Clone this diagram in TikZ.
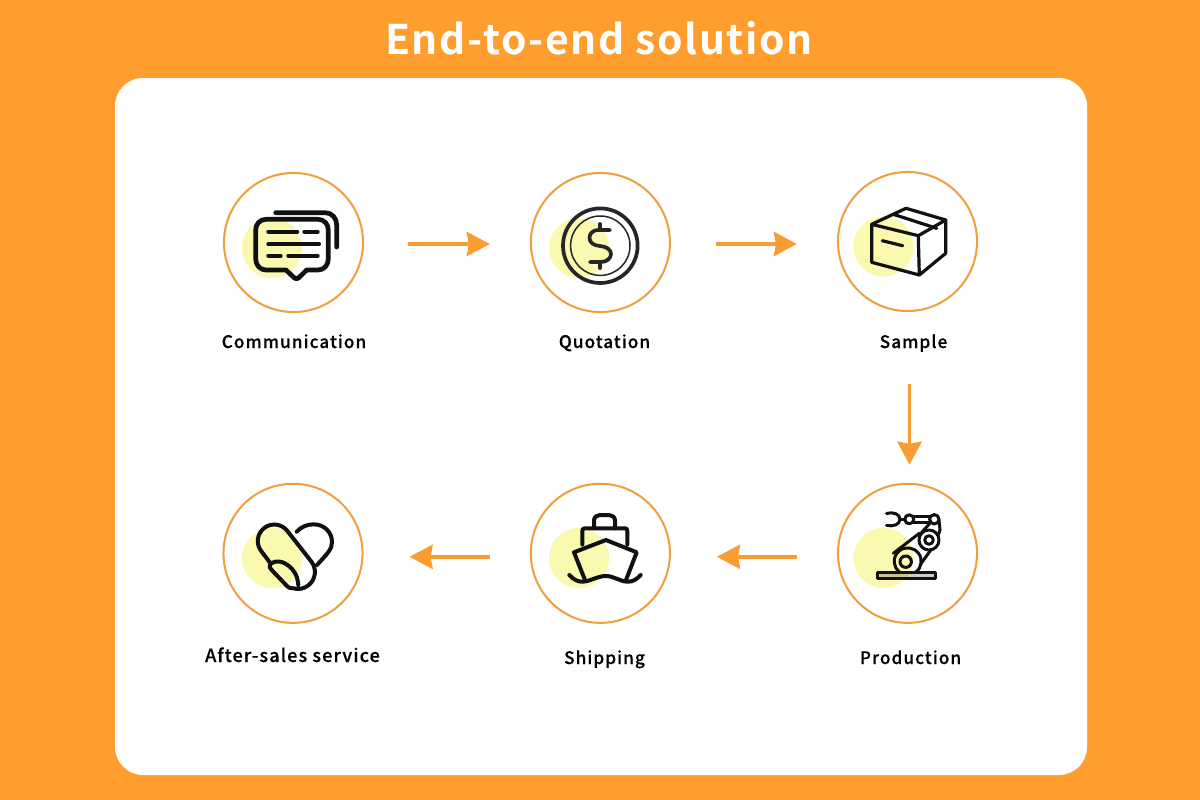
\documentclass[tikz,border=0pt]{standalone}
\usepackage{fontspec}
\setmainfont{Noto Sans CJK SC}
\newfontfamily\titlefont[LetterSpace=4]{Noto Sans CJK SC Bold}
\newfontfamily\labelfont[LetterSpace=6,FakeBold=0.3]{Noto Sans CJK SC Medium}
\usepackage{tikz}
\usetikzlibrary{calc,arrows.meta}
\definecolor{bgorange}{HTML}{FF9E2F}
\definecolor{ringorange}{HTML}{EE9F3E}
\definecolor{flowarrow}{HTML}{F99C31}
\definecolor{blob}{HTML}{FBF8B0}
\definecolor{inkblack}{HTML}{111111}
\tikzset{
  stepring/.style={circle,draw=ringorange,line width=0.02cm,minimum size=1.39cm,inner sep=0pt},
  steplabel/.style={text=black,font=\labelfont\fontsize{4.9}{6}\selectfont,inner sep=0pt,anchor=base},
  flowline/.style={draw=flowarrow,line width=0.035cm,-{Stealth[length=0.23cm,width=0.24cm,inset=0.02cm]}},
  icon/.style={draw=inkblack,line width=0.04cm,line join=round,line cap=round},
  bubbleicon/.style={icon,line width=0.047cm},
  coinicon/.style={icon,draw=black!85,line width=0.037cm},
  boxicon/.style={icon,line width=0.032cm},
  roboticon/.style={icon,line width=0.03cm},
  thinicon/.style={icon,draw=black!85,line width=0.015cm},
  yellowspot/.style={fill=blob,draw=none}
}
\begin{document}
\begin{tikzpicture}[x=0.01cm,y=-0.01cm]

%BACKGROUND AND PANEL
\fill [bgorange] (0,0) rectangle (1200,800);
\fill [white,rounded corners=0.28cm] (115,78) rectangle (1087,775);
\node [text=white,font=\titlefont\fontsize{11.6}{14}\selectfont,inner sep=0pt] (title) at (599,38) {End-to-end solution};

%ROW NO. 0 (from top)

%ELEMENT IN COLUMN NO. 0 (from left)
\fill [yellowspot] (272,248) circle (30);
\node [stepring] (communication) at (293.5,242.5) {};
\node [steplabel] (communicationtext) at (294,348) {Communication};
\draw [bubbleicon] (275.7,212.7) -- (325,212.7) .. controls (332,212.7) and (336.7,218) .. (336.7,225) -- (336.7,247);
\draw [bubbleicon] (266,219.3) -- (318,219.3) .. controls (324,219.3) and (328.3,224) .. (328.3,230) -- (328.3,259) .. controls (328.3,265) and (324,270) .. (318,270) -- (306.7,270) -- (298.5,278) .. controls (297.5,279) and (295.5,279) .. (294.5,278) -- (286,270) -- (266,270) .. controls (260,270) and (255.7,265) .. (255.7,259) -- (255.7,230) .. controls (255.7,224) and (260,219.3) .. (266,219.3) -- cycle;
\draw [icon] (268.3,231.7) -- (297.3,231.7);
\draw [icon] (304.3,231.7) -- (317.7,231.7);
\draw [icon] (268.3,244.3) -- (319,244.3);
\draw [icon] (268.3,255.7) -- (280.7,255.7);
\draw [icon] (288.3,255.7) -- (317.7,255.7);

%ELEMENT IN COLUMN NO. 1 (from left)
\fill [yellowspot] (579,248) circle (30);
\node [stepring] (quotation) at (600.4,242.5) {};
\node [steplabel] (quotationtext) at (604.5,348) {Quotation};
\draw [coinicon] (600.3,245.7) circle (37.3);
\draw [thinicon] (600.3,245.7) circle (29.7);
\draw [coinicon] (610,230) -- (599,230) .. controls (592,230) and (589.5,234) .. (589.5,238) .. controls (589.5,243) and (594,245.5) .. (600,246) .. controls (607,246.5) and (611,250) .. (611,254) .. controls (611,258) and (607,262) .. (601,262) -- (590,262);
\draw [coinicon] (600,224) -- (600,230);
\draw [coinicon] (600,262) -- (600,268);

%ELEMENT IN COLUMN NO. 2 (from left)
\fill [yellowspot] (883.5,246.5) circle (30);
\node [stepring] (sample) at (907.5,241.5) {};
\node [steplabel] (sampletext) at (913.5,348) {Sample};
\draw [boxicon] (871.7,224.3) -- (918.3,235.7) -- (919.3,275) -- (871.7,262.3) -- cycle;
\draw [boxicon] (871.7,224.3) -- (906,208.3) -- (945.7,220) -- (918.3,235.7);
\draw [boxicon] (945.7,220) -- (945.7,253.3) -- (919.3,275);
\draw [boxicon] (893.3,214.3) -- (936.7,228.3);
\draw [boxicon] (882.3,240.7) -- (902.7,245.7);

%ROW NO. 1 (from top)

%ELEMENT IN COLUMN NO. 2 (from left)
\fill [yellowspot] (883.5,558) circle (30);
\node [stepring] (production) at (907.5,553.3) {};
\node [steplabel] (productiontext) at (910.5,664) {Production};
\draw [roboticon,fill=black,fill opacity=0.2] (877.3,572.3) rectangle (935.7,578.3);
\draw [roboticon] (916,572) arc (52:-232:13.5);
\draw [roboticon] (905.7,561.7) circle (5.7);
\draw [roboticon] (929,540) circle (10);
\draw [roboticon] (929,540) circle (4.3);
\draw [roboticon] (934.3,519.3) circle (4.7);
\draw [roboticon] (909.3,519.3) circle (4.5);
\draw [roboticon] (913.5,516) -- (930,516);
\draw [roboticon] (913.5,522.5) -- (930,522.5);
\draw [roboticon] (886.5,513.5) .. controls (893,511.5) and (900,514) .. (900,519.3) .. controls (900,524.5) and (893,527) .. (886.5,525.3);
\draw [roboticon] (900,519.3) -- (904.8,519.3);
\draw [roboticon] (893.3,553.3) -- (919.3,533.3);
\draw [roboticon] (920,565) -- (931,549.7);
\draw [roboticon] (931,522) -- (920,534.3);
\draw [roboticon] (939,520) -- (940,530) -- (938.3,535);

%ELEMENT IN COLUMN NO. 1 (from left)
\fill [yellowspot] (579,558) circle (30);
\node [stepring] (shipping) at (600.4,553.3) {};
\node [steplabel] (shippingtext) at (604.5,664) {Shipping};
\draw [icon] (594,528.3) -- (594,520.5) .. controls (594,517) and (597,515) .. (600,515) -- (609,515) .. controls (612,515) and (615,517) .. (615,520.5) -- (615,528.3);
\draw [icon] (582.3,544.5) -- (582.3,531) .. controls (582.3,529) and (583.5,528.3) .. (585,528.3) -- (625,528.3) .. controls (626.5,528.3) and (627.3,529) .. (627.3,531) -- (627.3,544.5);
\draw [icon] (585,580) -- (574,552.3) -- (606,540) -- (636.7,552.3) -- (626,580);
\draw [icon] (569.3,575) .. controls (574,580) and (578,581.7) .. (582,581.7) .. controls (590,581.7) and (597,576) .. (606,576) .. controls (614,576) and (620,581.7) .. (628,581.7) .. controls (633,581.7) and (637,579) .. (640.7,575);

%ELEMENT IN COLUMN NO. 0 (from left)
\fill [yellowspot] (272,558) circle (30);
\node [stepring] (aftersales) at (293,553.3) {};
\node [steplabel,font=\labelfont\fontsize{5.15}{6}\selectfont] (aftersalestext) at (292.5,662) {After-sales service};
\draw [icon] (269.5,562) -- (261.3,551.2) arc (142:322:16.5) -- (311.3,561.5) arc (-38:106:17) .. controls (290,589) and (288,587) .. (286.7,585.7) -- (273.3,571.7) .. controls (270,568) and (268.5,566.5) .. (270,564.5) .. controls (273,561.5) and (277,561.2) .. (280,561.7) .. controls (286,562.5) and (294,569) .. (296.7,576.7) .. controls (297.7,580) and (298.3,583) .. (298.3,585);
\draw [icon] (296.7,531.7) .. controls (301,527) and (307,524.3) .. (313.5,524.3) .. controls (324,524.3) and (332,532) .. (332,542) .. controls (332,549) and (328,553) .. (317,565);

%ARROWS
\draw [flowline,shorten <=0.44cm,shorten >=0.4cm] ($(communication.east)+(0,1.5)$) -- ($(quotation.west)+(0,1.5)$);
\draw [flowline,shorten <=0.45cm,shorten >=0.4cm] ($(quotation.east)+(0,1.5)$) -- ($(sample.west)+(0,2.5)$);
\draw [flowline,shorten <=0.72cm,shorten >=0.18cm] ($(sample.south)+(2,0)$) -- ($(production.north)+(2,0)$);
\draw [flowline,shorten <=0.4cm,shorten >=0.46cm] ($(production.west)+(0,3.5)$) -- ($(shipping.east)+(0,3.5)$);
\draw [flowline,shorten <=0.4cm,shorten >=0.46cm] ($(shipping.west)+(0,3.5)$) -- ($(aftersales.east)+(0,3.5)$);

\end{tikzpicture}
\end{document}
